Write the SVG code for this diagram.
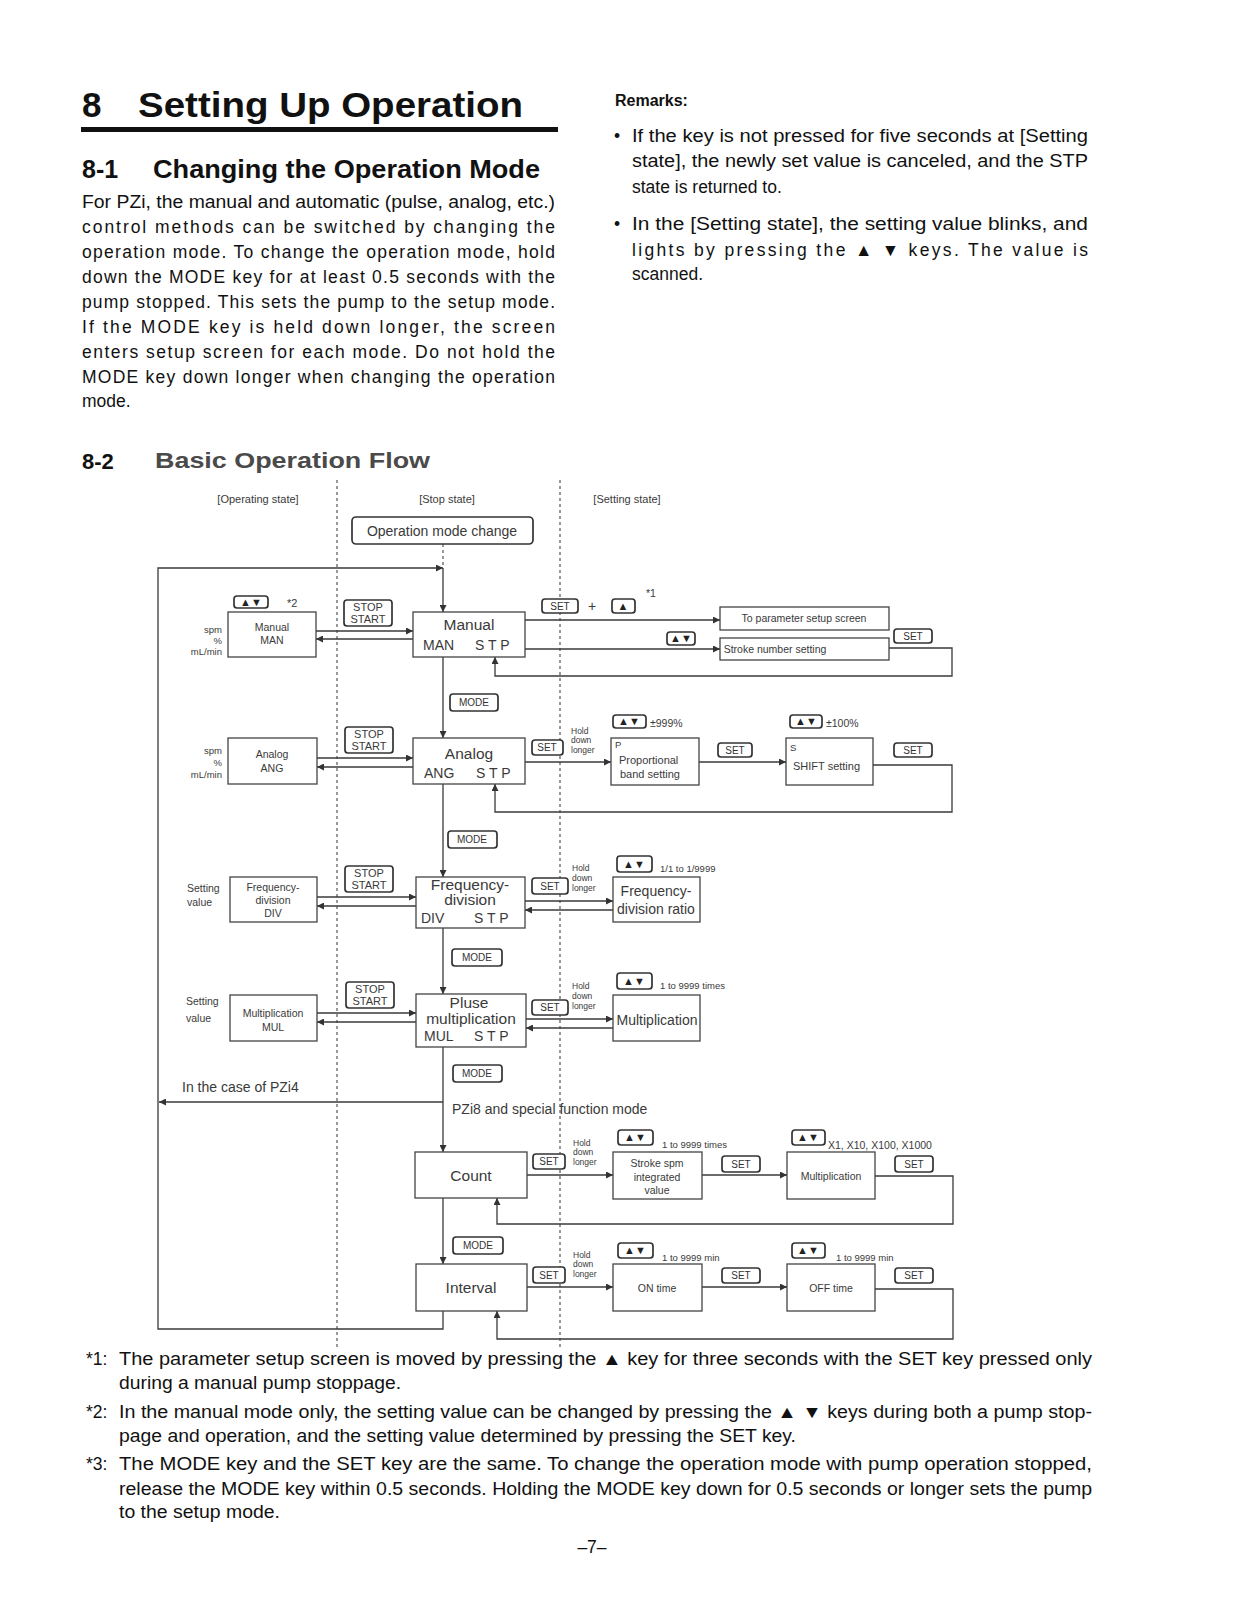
<svg xmlns="http://www.w3.org/2000/svg" width="1241" height="1598" viewBox="0 0 1241 1598">
<defs>
<style>
text{font-family:"Liberation Sans","DejaVu Sans",Arial,sans-serif;fill:#222}
.h1{font-size:35px;font-weight:bold;fill:#111}
.h2{font-size:25px;font-weight:bold;fill:#111}
.body{font-size:17.5px;fill:#111}
.fn{font-size:17.5px;fill:#111}
.d{fill:#3a3a3a}
.box{fill:#fff;stroke:#444;stroke-width:1.3}
.k{fill:#fff;stroke:#333;stroke-width:1.7}
.kt{font-size:10px;text-anchor:middle;fill:#333}
.ka{font-size:11px;text-anchor:middle;fill:#222;font-weight:bold}
.c{text-anchor:middle}
.s9{font-size:9.5px}
.s8{font-size:8.5px}
.s10{font-size:10.5px}
.s11{font-size:11px}
.s14{font-size:14px}
.s15{font-size:15.5px}
.ln{fill:none;stroke:#3a3a3a;stroke-width:1.3}
.ar{marker-end:url(#ah)}
.dash{fill:none;stroke:#555;stroke-width:1.2;stroke-dasharray:3 3}
</style>
<marker id="ah" viewBox="0 0 10 10" refX="10" refY="5" markerWidth="8" markerHeight="7" markerUnits="userSpaceOnUse" orient="auto"><path d="M0,0 L10,5 L0,10 z" fill="#333"/></marker>
</defs>
<rect width="1241" height="1598" fill="#fff"/>

<g id="header">
<text class="h1" x="82" y="117">8</text>
<text class="h1" x="138" y="117" textLength="385" lengthAdjust="spacingAndGlyphs">Setting Up Operation</text>
<rect x="81" y="127" width="477" height="5" fill="#111"/>
<text class="h2" x="82" y="178">8-1</text>
<text class="h2" x="153" y="178" textLength="387" lengthAdjust="spacingAndGlyphs">Changing the Operation Mode</text>
<text class="body" x="82" y="208" textLength="473" lengthAdjust="spacingAndGlyphs">For PZi, the manual and automatic (pulse, analog, etc.)</text>
<text class="body" x="82" y="233" textLength="473" lengthAdjust="spacing">control methods can be switched by changing the</text>
<text class="body" x="82" y="258" textLength="473" lengthAdjust="spacing">operation mode. To change the operation mode, hold</text>
<text class="body" x="82" y="283" textLength="473" lengthAdjust="spacing">down the MODE key for at least 0.5 seconds with the</text>
<text class="body" x="82" y="308" textLength="473" lengthAdjust="spacing">pump stopped. This sets the pump to the setup mode.</text>
<text class="body" x="82" y="333" textLength="473" lengthAdjust="spacing">If the MODE key is held down longer, the screen</text>
<text class="body" x="82" y="358" textLength="473" lengthAdjust="spacing">enters setup screen for each mode. Do not hold the</text>
<text class="body" x="82" y="383" textLength="473" lengthAdjust="spacing">MODE key down longer when changing the operation</text>
<text class="body" x="82" y="407">mode.</text>
</g>

<g id="remarks">
<text x="615" y="106" style="font-size:16px;font-weight:bold;fill:#111">Remarks:</text>
<text class="body" x="614" y="142">•</text>
<text class="body" x="632" y="142" textLength="456" lengthAdjust="spacingAndGlyphs">If the key is not pressed for five seconds at [Setting</text>
<text class="body" x="632" y="167" textLength="456" lengthAdjust="spacingAndGlyphs">state], the newly set value is canceled, and the STP</text>
<text class="body" x="632" y="193">state is returned to.</text>
<text class="body" x="614" y="230">•</text>
<text class="body" x="632" y="230" textLength="456" lengthAdjust="spacingAndGlyphs">In the [Setting state], the setting value blinks, and</text>
<text class="body" x="632" y="256" textLength="456" lengthAdjust="spacing">lights by pressing the ▲ ▼ keys. The value is</text>
<text class="body" x="632" y="280">scanned.</text>
</g>

<g id="section82">
<text x="82" y="469" style="font-size:22px;font-weight:bold;fill:#111">8-2</text>
<text x="155" y="468" textLength="275" lengthAdjust="spacingAndGlyphs" style="font-size:22px;font-weight:bold;fill:#4a4a4a">Basic Operation Flow</text>
<text class="d s11 c" x="258" y="503">[Operating state]</text>
<text class="d s11 c" x="447" y="503">[Stop state]</text>
<text class="d s11 c" x="627" y="503">[Setting state]</text>
</g>

<g id="connectors">
<path class="dash" d="M337,480 V1348"/>
<path class="dash" d="M560,480 V1348"/>
<path class="dash" d="M443,544 V568"/>
<path class="ln ar" d="M443,1311 V1329 H158 V568 H443"/>
<path class="ln ar" d="M443,568 V612"/>
<path class="ln ar" d="M443,657 V738"/>
<path class="ln ar" d="M443,784 V877"/>
<path class="ln ar" d="M443,928 V994"/>
<path class="ln ar" d="M443,1047 V1152"/>
<path class="ln ar" d="M443,1102 H159"/>
<path class="ln ar" d="M443,1198 V1264"/>
<path class="ln ar" d="M316,631 H413"/>
<path class="ln ar" d="M413,639 H316"/>
<path class="ln ar" d="M317,758 H413"/>
<path class="ln ar" d="M413,767 H317"/>
<path class="ln ar" d="M317,897 H416"/>
<path class="ln ar" d="M416,906 H317"/>
<path class="ln ar" d="M317,1013 H416"/>
<path class="ln ar" d="M416,1022 H317"/>
<path class="ln ar" d="M525,620 H720"/>
<path class="ln ar" d="M525,649 H720"/>
<path class="ln ar" d="M889,648 H952 V676 H495 V657"/>
<path class="ln ar" d="M525,762 H611"/>
<path class="ln ar" d="M699,762 H786"/>
<path class="ln ar" d="M873,765 H952 V812 H495 V784"/>
<path class="ln ar" d="M525,901 H613"/>
<path class="ln ar" d="M613,910 H525"/>
<path class="ln ar" d="M526,1019 H613"/>
<path class="ln ar" d="M613,1028 H526"/>
<path class="ln ar" d="M527,1175 H613"/>
<path class="ln ar" d="M702,1175 H787"/>
<path class="ln ar" d="M875,1176 H953 V1224 H497 V1198"/>
<path class="ln ar" d="M527,1287 H613"/>
<path class="ln ar" d="M702,1287 H787"/>
<path class="ln ar" d="M875,1289 H953 V1339 H497 V1311"/>
</g>

<g id="mode-change">
<rect class="k" x="352" y="517" width="181" height="27" rx="4"/>
<text class="d s14 c" x="442" y="536">Operation mode change</text>
</g>

<g id="op-manual">
<rect class="box" x="228" y="612" width="88" height="45"/>
<text class="d s10 c" x="272" y="631">Manual</text>
<text class="d s10 c" x="272" y="644">MAN</text>
<text class="d s9" x="222" y="633" text-anchor="end">spm</text>
<text class="d s9" x="222" y="644" text-anchor="end">%</text>
<text class="d s9" x="222" y="655" text-anchor="end">mL/min</text>
<rect class="k" x="234" y="596" width="34" height="12" rx="3"/>
<text class="ka" x="251" y="606">▲▼</text>
<text class="d s11" x="287" y="607">*2</text>
</g>

<g id="op-analog">
<rect class="box" x="228" y="738" width="89" height="46"/>
<text class="d s10 c" x="272" y="758">Analog</text>
<text class="d s10 c" x="272" y="772">ANG</text>
<text class="d s9" x="222" y="754" text-anchor="end">spm</text>
<text class="d s9" x="222" y="766" text-anchor="end">%</text>
<text class="d s9" x="222" y="778" text-anchor="end">mL/min</text>
</g>

<g id="op-div">
<rect class="box" x="230" y="877" width="87" height="45"/>
<text class="d s10 c" x="273" y="891">Frequency-</text>
<text class="d s10 c" x="273" y="904">division</text>
<text class="d s10 c" x="273" y="917">DIV</text>
<text class="d s10" x="187" y="892">Setting</text>
<text class="d s10" x="187" y="906">value</text>
</g>

<g id="op-mul">
<rect class="box" x="230" y="995" width="87" height="46"/>
<text class="d s10 c" x="273" y="1017">Multiplication</text>
<text class="d s10 c" x="273" y="1031">MUL</text>
<text class="d s10" x="186" y="1005">Setting</text>
<text class="d s10" x="186" y="1022">value</text>
</g>

<g id="stopstart-keys">
<rect class="k" x="344" y="600" width="48" height="26" rx="3"/>
<text class="d s11 c" x="368" y="611">STOP</text>
<text class="d s11 c" x="368" y="623">START</text>
<rect class="k" x="345" y="727" width="48" height="26" rx="3"/>
<text class="d s11 c" x="369" y="738">STOP</text>
<text class="d s11 c" x="369" y="750">START</text>
<rect class="k" x="345" y="866" width="48" height="26" rx="3"/>
<text class="d s11 c" x="369" y="877">STOP</text>
<text class="d s11 c" x="369" y="889">START</text>
<rect class="k" x="346" y="982" width="48" height="26" rx="3"/>
<text class="d s11 c" x="370" y="993">STOP</text>
<text class="d s11 c" x="370" y="1005">START</text>
</g>

<g id="stp-manual">
<rect class="box" x="413" y="612" width="112" height="45"/>
<text class="d s15 c" x="469" y="630">Manual</text>
<text class="d s14" x="423" y="650">MAN</text>
<text class="d s14" x="475" y="650">S T P</text>
</g>

<g id="stp-analog">
<rect class="box" x="413" y="738" width="112" height="46"/>
<text class="d s15 c" x="469" y="759">Analog</text>
<text class="d s14" x="424" y="778">ANG</text>
<text class="d s14" x="476" y="778">S T P</text>
</g>

<g id="stp-div">
<rect class="box" x="416" y="877" width="109" height="51"/>
<text class="d s15 c" x="470" y="890">Frequency-</text>
<text class="d s15 c" x="470" y="905">division</text>
<text class="d s14" x="421" y="923">DIV</text>
<text class="d s14" x="474" y="923">S T P</text>
</g>

<g id="stp-mul">
<rect class="box" x="416" y="994" width="110" height="53"/>
<text class="d s15 c" x="469" y="1008">Pluse</text>
<text class="d s15 c" x="471" y="1024">multiplication</text>
<text class="d s14" x="424" y="1041">MUL</text>
<text class="d s14" x="474" y="1041">S T P</text>
</g>

<g id="mode-keys">
<rect class="k" x="450" y="694" width="48" height="17" rx="3"/>
<text class="kt" x="474" y="706">MODE</text>
<rect class="k" x="448" y="831" width="49" height="17" rx="3"/>
<text class="kt" x="472" y="843">MODE</text>
<rect class="k" x="452" y="949" width="50" height="17" rx="3"/>
<text class="kt" x="477" y="961">MODE</text>
<rect class="k" x="453" y="1065" width="49" height="17" rx="3"/>
<text class="kt" x="477" y="1077">MODE</text>
<rect class="k" x="453" y="1237" width="50" height="17" rx="3"/>
<text class="kt" x="478" y="1249">MODE</text>
</g>

<g id="branch-labels">
<text class="d s14" x="182" y="1092">In the case of PZi4</text>
<text class="d s14" x="452" y="1114">PZi8 and special function mode</text>
</g>

<g id="count">
<rect class="box" x="415" y="1152" width="112" height="46"/>
<text class="d s15 c" x="471" y="1181">Count</text>
</g>

<g id="interval">
<rect class="box" x="416" y="1264" width="111" height="47"/>
<text class="d s15 c" x="471" y="1293">Interval</text>
</g>

<g id="param-setup">
<rect class="box" x="720" y="607" width="169" height="23"/>
<text class="d s10 c" x="804" y="622">To parameter setup screen</text>
<rect class="k" x="542" y="599" width="36" height="14" rx="3"/>
<text class="kt" x="560" y="610">SET</text>
<text class="d s14" x="588" y="611">+</text>
<rect class="k" x="612" y="599" width="23" height="14" rx="3"/>
<text class="ka" x="623" y="610">▲</text>
<text class="d s10" x="646" y="597">*1</text>
</g>
<g id="stroke-number">
<rect class="box" x="720" y="638" width="169" height="22"/>
<text class="d s10 c" x="775" y="653">Stroke number setting</text>
<rect class="k" x="667" y="632" width="28" height="13" rx="3"/>
<text class="ka" x="681" y="642">▲▼</text>
<rect class="k" x="894" y="629" width="38" height="14" rx="3"/>
<text class="kt" x="913" y="640">SET</text>
</g>

<g id="prop-band">
<rect class="k" x="532" y="740" width="31" height="15" rx="3"/>
<text class="kt" x="547" y="751">SET</text>
<text class="d s8" x="571" y="734">Hold</text>
<text class="d s8" x="571" y="743">down</text>
<text class="d s8" x="571" y="753">longer</text>
<rect class="box" x="611" y="738" width="88" height="47"/>
<text class="d s9" x="615" y="748">P</text>
<text class="d s11" x="619" y="764">Proportional</text>
<text class="d s11" x="620" y="778">band setting</text>
<rect class="k" x="613" y="715" width="33" height="13" rx="3"/>
<text class="ka" x="629" y="725">▲▼</text>
<text class="d s10" x="650" y="727">±999%</text>
<rect class="k" x="718" y="743" width="34" height="14" rx="3"/>
<text class="kt" x="735" y="754">SET</text>
</g>
<g id="shift">
<rect class="box" x="786" y="738" width="87" height="47"/>
<text class="d s9" x="790" y="751">S</text>
<text class="d s11" x="793" y="770">SHIFT setting</text>
<rect class="k" x="790" y="715" width="32" height="13" rx="3"/>
<text class="ka" x="806" y="725">▲▼</text>
<text class="d s10" x="826" y="727">±100%</text>
<rect class="k" x="894" y="743" width="38" height="14" rx="3"/>
<text class="kt" x="913" y="754">SET</text>
</g>

<g id="div-ratio">
<rect class="k" x="532" y="878" width="36" height="16" rx="3"/>
<text class="kt" x="550" y="890">SET</text>
<text class="d s8" x="572" y="871">Hold</text>
<text class="d s8" x="572" y="881">down</text>
<text class="d s8" x="572" y="891">longer</text>
<rect class="box" x="613" y="877" width="87" height="45"/>
<text class="d s14 c" x="656" y="896">Frequency-</text>
<text class="d s14 c" x="656" y="914">division ratio</text>
<rect class="k" x="617" y="856" width="35" height="16" rx="3"/>
<text class="ka" x="634" y="868">▲▼</text>
<text class="d s9" x="660" y="872">1/1 to 1/9999</text>
</g>

<g id="mul-setting">
<rect class="k" x="532" y="1000" width="36" height="15" rx="3"/>
<text class="kt" x="550" y="1011">SET</text>
<text class="d s8" x="572" y="989">Hold</text>
<text class="d s8" x="572" y="999">down</text>
<text class="d s8" x="572" y="1009">longer</text>
<rect class="box" x="613" y="995" width="87" height="46"/>
<text class="d s14 c" x="657" y="1025">Multiplication</text>
<rect class="k" x="617" y="973" width="35" height="16" rx="3"/>
<text class="ka" x="634" y="985">▲▼</text>
<text class="d s9" x="660" y="989">1 to 9999 times</text>
</g>

<g id="stroke-spm">
<rect class="k" x="533" y="1154" width="32" height="15" rx="3"/>
<text class="kt" x="549" y="1165">SET</text>
<text class="d s8" x="573" y="1146">Hold</text>
<text class="d s8" x="573" y="1155">down</text>
<text class="d s8" x="573" y="1165">longer</text>
<rect class="box" x="613" y="1152" width="89" height="47"/>
<text class="d s10 c" x="657" y="1167">Stroke spm</text>
<text class="d s10 c" x="657" y="1181">integrated</text>
<text class="d s10 c" x="657" y="1194">value</text>
<rect class="k" x="618" y="1130" width="35" height="15" rx="3"/>
<text class="ka" x="635" y="1141">▲▼</text>
<text class="d s9" x="662" y="1148">1 to 9999 times</text>
<rect class="k" x="722" y="1156" width="38" height="16" rx="3"/>
<text class="kt" x="741" y="1168">SET</text>
</g>
<g id="count-mul">
<rect class="box" x="787" y="1152" width="88" height="47"/>
<text class="d s10 c" x="831" y="1180">Multiplication</text>
<rect class="k" x="792" y="1130" width="33" height="15" rx="3"/>
<text class="ka" x="808" y="1141">▲▼</text>
<text class="d s10" x="828" y="1149">X1, X10, X100, X1000</text>
<rect class="k" x="895" y="1156" width="38" height="16" rx="3"/>
<text class="kt" x="914" y="1168">SET</text>
</g>

<g id="on-time">
<rect class="k" x="533" y="1267" width="32" height="16" rx="3"/>
<text class="kt" x="549" y="1279">SET</text>
<text class="d s8" x="573" y="1258">Hold</text>
<text class="d s8" x="573" y="1267">down</text>
<text class="d s8" x="573" y="1277">longer</text>
<rect class="box" x="613" y="1264" width="89" height="47"/>
<text class="d s10 c" x="657" y="1292">ON time</text>
<rect class="k" x="618" y="1243" width="35" height="15" rx="3"/>
<text class="ka" x="635" y="1254">▲▼</text>
<text class="d s9" x="662" y="1261">1 to 9999 min</text>
<rect class="k" x="722" y="1268" width="38" height="15" rx="3"/>
<text class="kt" x="741" y="1279">SET</text>
</g>
<g id="off-time">
<rect class="box" x="787" y="1264" width="88" height="47"/>
<text class="d s10 c" x="831" y="1292">OFF time</text>
<rect class="k" x="792" y="1243" width="33" height="15" rx="3"/>
<text class="ka" x="808" y="1254">▲▼</text>
<text class="d s9" x="836" y="1261">1 to 9999 min</text>
<rect class="k" x="895" y="1268" width="38" height="15" rx="3"/>
<text class="kt" x="914" y="1279">SET</text>
</g>

<g id="footnotes">
<text class="fn" x="86" y="1365">*1:</text>
<text class="fn" x="119" y="1365" textLength="973" lengthAdjust="spacingAndGlyphs">The parameter setup screen is moved by pressing the ▲ key for three seconds with the SET key pressed only</text>
<text class="fn" x="119" y="1389" textLength="282" lengthAdjust="spacingAndGlyphs">during a manual pump stoppage.</text>
<text class="fn" x="86" y="1418">*2:</text>
<text class="fn" x="119" y="1418" textLength="973" lengthAdjust="spacingAndGlyphs">In the manual mode only, the setting value can be changed by pressing the ▲ ▼ keys during both a pump stop-</text>
<text class="fn" x="119" y="1442" textLength="677" lengthAdjust="spacingAndGlyphs">page and operation, and the setting value determined by pressing the SET key.</text>
<text class="fn" x="86" y="1470">*3:</text>
<text class="fn" x="119" y="1470" textLength="973" lengthAdjust="spacingAndGlyphs">The MODE key and the SET key are the same. To change the operation mode with pump operation stopped,</text>
<text class="fn" x="119" y="1495" textLength="973" lengthAdjust="spacingAndGlyphs">release the MODE key within 0.5 seconds. Holding the MODE key down for 0.5 seconds or longer sets the pump</text>
<text class="fn" x="119" y="1518" textLength="161" lengthAdjust="spacingAndGlyphs">to the setup mode.</text>
<text class="fn" x="592" y="1553" text-anchor="middle">–7–</text>
</g>
</svg>
